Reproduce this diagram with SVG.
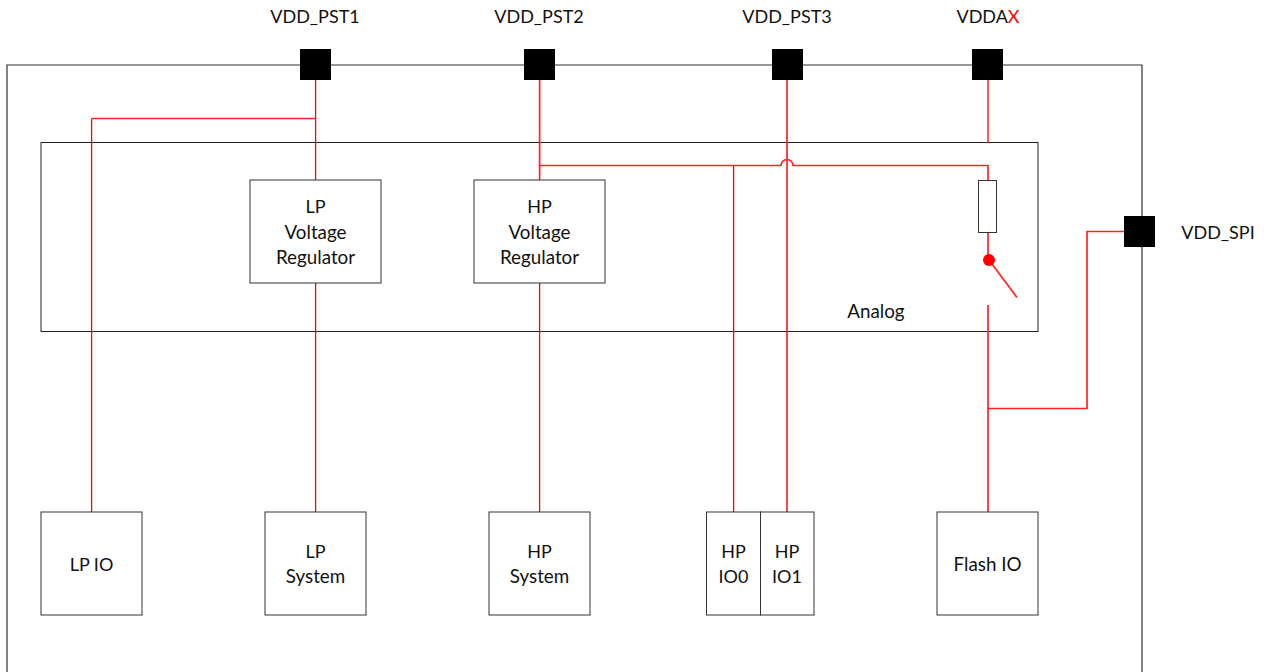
<svg xmlns="http://www.w3.org/2000/svg" width="1264" height="672" viewBox="0 0 1264 672">
<style>
text{font-family:"Lato","Liberation Sans",sans-serif;font-size:18px;fill:#111;text-anchor:middle}
text.low{font-size:18.8px}
.box{fill:#fff;stroke:#333;stroke-width:1}
.frame{fill:none;stroke:#333;stroke-width:1.2}
.inner{fill:none;stroke:#222;stroke-width:1}
.pad{fill:#000}
.wire{fill:none;stroke:#f00;stroke-width:1.3}
.thick{fill:none;stroke:#f22;stroke-width:1.7}
</style>
<rect width="1264" height="672" fill="#fff"/>
<g id="chip"><path class="frame" d="M7 680V65H1142V680"/></g>
<g id="analog"><rect class="inner" x="41" y="142.500" width="997" height="189"/><text class="low" x="876" y="318">Analog</text></g>
<g id="connectors">
<path class="wire" d="M315.600 80V180M315.600 283V512M91.600 118.500V512M539.600 283V512M733.600 165.500V512M988 80V143"/>
<path class="thick" d="M315.600 118.500H91.500M539.600 80V180M539.600 165.500H781a6 6 0 0 1 12 0H988V181M787 80V512M988 233V255M988 305V512M988 408.500H1087V231.500H1124"/>
<path class="thick" d="M989 260L1017 297.500"/>
<circle cx="989" cy="260" r="6" fill="#f00"/>
</g>
<g id="pad-vdd-pst1"><rect class="pad" x="300" y="49" width="31" height="31"/><text x="315" y="23">VDD_PST1</text></g>
<g id="pad-vdd-pst2"><rect class="pad" x="524" y="49" width="31" height="31"/><text x="539" y="23">VDD_PST2</text></g>
<g id="pad-vdd-pst3"><rect class="pad" x="772" y="49" width="31" height="31"/><text x="787" y="23">VDD_PST3</text></g>
<g id="pad-vddax"><rect class="pad" x="972" y="49" width="31" height="31"/><text x="988" y="23">VDDA<tspan fill="#f00">X</tspan></text></g>
<g id="pad-vdd-spi"><rect class="pad" x="1124" y="216" width="31" height="31"/><text x="1218" y="239">VDD_SPI</text></g>
<g id="lp-regulator"><rect class="box" x="250" y="180" width="131" height="103"/><text x="315.500" y="213">LP</text><text class="low" x="315.500" y="239">Voltage</text><text class="low" x="315.500" y="264">Regulator</text></g>
<g id="hp-regulator"><rect class="box" x="474" y="180" width="131" height="103"/><text x="539.500" y="213">HP</text><text class="low" x="539.500" y="239">Voltage</text><text class="low" x="539.500" y="264">Regulator</text></g>
<g id="resistor"><rect class="box" x="978.500" y="180.500" width="18" height="52"/></g>
<g id="lp-io"><rect class="box" x="41" y="512" width="101" height="103"/><text x="91.500" y="571">LP IO</text></g>
<g id="lp-system"><rect class="box" x="265" y="512" width="101" height="103"/><text x="315.500" y="558">LP</text><text class="low" x="315.500" y="583">System</text></g>
<g id="hp-system"><rect class="box" x="489" y="512" width="101" height="103"/><text x="539.500" y="558">HP</text><text class="low" x="539.500" y="583">System</text></g>
<g id="hp-io0"><rect class="box" x="706.500" y="512" width="54" height="103"/><text x="733.500" y="558">HP</text><text x="733.500" y="583">IO0</text></g>
<g id="hp-io1"><rect class="box" x="760.500" y="512" width="53.500" height="103"/><text x="787" y="558">HP</text><text x="787" y="583">IO1</text></g>
<g id="flash-io"><rect class="box" x="937" y="512" width="101" height="103"/><text class="low" x="987.500" y="571">Flash IO</text></g>
</svg>
